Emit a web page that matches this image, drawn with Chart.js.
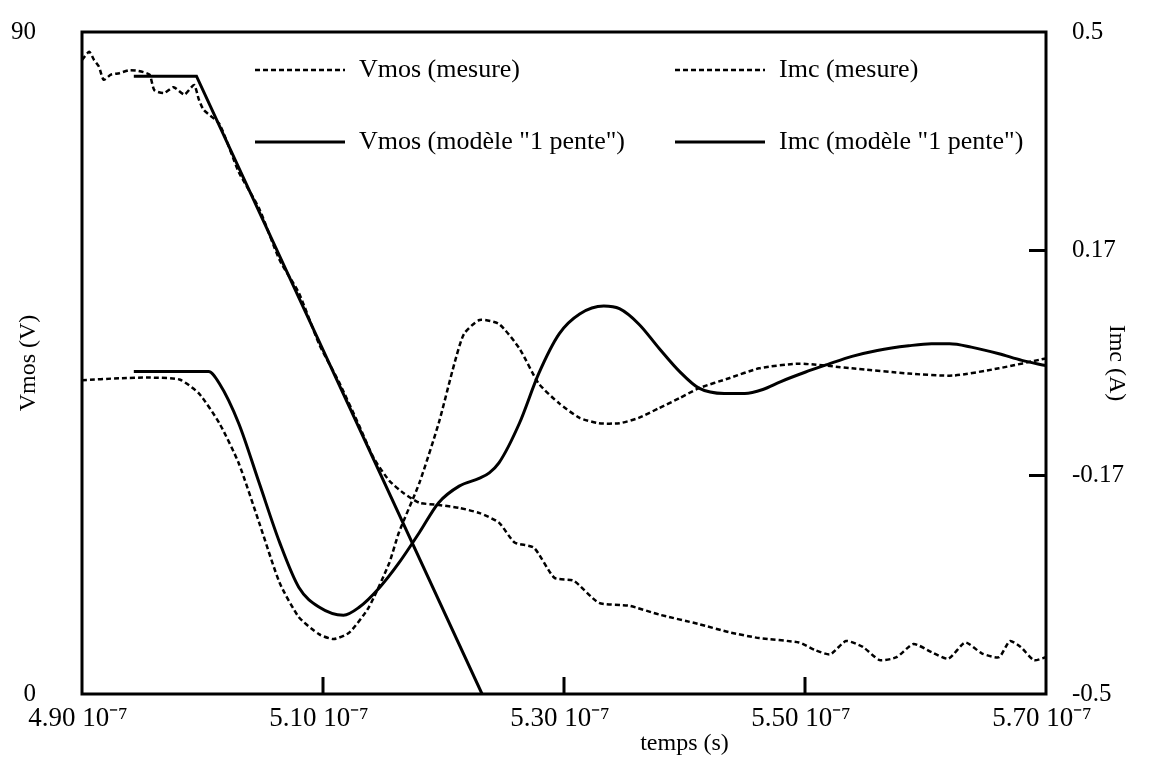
<!DOCTYPE html>
<html>
<head>
<meta charset="utf-8">
<style>
  html, body { margin: 0; padding: 0; background: #fff; }
</style>
</head>
<body>
<canvas id="chart" width="1155" height="765"></canvas>
<script src="https://cdn.jsdelivr.net/npm/chart.js@4.4.0/dist/chart.umd.min.js"></script>
<script>
const FONT = "'Liberation Serif', 'Times New Roman', serif";

// time in ns, shown on the axis as "x.xx 10^-7"
const xTicks = [490, 510, 530, 550, 570];
const vmosTicks = [0, 90];
const imcTicks = [-0.5, -0.17, 0.17, 0.5];

const vmosMesureT = [490.0, 490.6, 491.0, 491.4, 491.8, 492.4, 493.1, 493.9, 494.7, 495.6, 496.0, 496.8, 497.6, 498.5, 499.3, 499.7, 500.1,
  501.4, 503.0, 504.7, 506.4, 508.0, 509.7, 511.3, 513.0, 514.2, 515.5, 516.7, 518.0, 519.6, 521.3, 523.0, 524.6, 525.9, 527.5,
  529.2, 530.8, 532.9, 535.4, 537.9, 541.2, 543.7, 546.2, 549.5, 550.8, 552.1, 553.4, 554.8, 556.2, 557.6, 559.0, 560.5, 561.9,
  563.3, 564.7, 566.1, 567.0, 567.9, 569.0, 570.0];
const vmosMesureV = [86.2, 87.3, 86.2, 85.3, 83.5, 84.2, 84.4, 84.8, 84.7, 84.2, 82.1, 81.7, 82.5, 81.5, 82.8, 80.8, 79.4,
  77.5, 71.0, 66.0, 59.0, 54.5, 47.5, 42.5, 36.5, 32.1, 29.0, 27.3, 26.0, 25.7, 25.3, 24.6, 23.3, 20.6, 19.9,
  15.8, 15.4, 12.4, 12.0, 10.8, 9.5, 8.4, 7.6, 7.0, 6.0, 5.4, 7.2, 6.4, 4.6, 5.0, 6.8, 5.7, 4.8,
  7.0, 5.5, 5.0, 7.2, 6.4, 4.6, 5.0];

const vmosModeleT = [494.3, 499.5, 523.2];
const vmosModeleV = [84.0, 84.0, 0];

const imcMesureT = [490.0, 493.1, 495.6, 498.1, 499.7, 501.4, 503.0, 504.7, 506.4, 508.0, 509.7, 510.9, 512.2, 513.8, 515.5, 516.3,
  518.0, 519.6, 520.9, 521.7, 523.0, 524.6, 526.3, 527.9, 529.6, 531.3, 532.9, 534.6, 536.2, 537.9, 539.6, 541.2, 543.7,
  546.2, 549.5, 553.9, 558.6, 562.3, 566.1, 570.0];
const imcMesureI = [-0.026, -0.023, -0.022, -0.025, -0.046, -0.091, -0.151, -0.241, -0.332, -0.384, -0.410, -0.417, -0.407, -0.369, -0.302, -0.256,
  -0.181, -0.091, -0.001, 0.044, 0.065, 0.059, 0.022, -0.031, -0.061, -0.083, -0.091, -0.091, -0.083, -0.068, -0.053, -0.038, -0.023,
  -0.008, -0.001, -0.008, -0.016, -0.019, -0.008, 0.007];

const imcModeleT = [494.3, 500.5, 501.4, 503.0, 504.7, 506.4, 508.0, 509.7, 511.7, 513.0, 514.7, 516.3, 518.0, 519.6, 521.3, 523.0,
  523.8, 524.6, 526.3, 527.9, 529.6, 531.3, 533.3, 534.6, 536.2, 537.9, 539.6, 541.2, 543.3, 545.0, 546.5, 548.0, 550.0,
  551.9, 553.9, 556.0, 558.6, 560.5, 562.0, 563.8, 566.1, 568.0, 570.0];
const imcModeleI = [-0.013, -0.013, -0.031, -0.091, -0.181, -0.271, -0.339, -0.369, -0.381, -0.369, -0.339, -0.302, -0.256, -0.211, -0.186, -0.174,
  -0.166, -0.151, -0.091, -0.016, 0.044, 0.074, 0.086, 0.082, 0.059, 0.022, -0.013, -0.038, -0.046, -0.046, -0.040, -0.028, -0.014,
  -0.002, 0.010, 0.019, 0.026, 0.029, 0.029, 0.024, 0.014, 0.004, -0.004];

const seriesNames = ["Vmos (mesure)", "Vmos (modèle \"1 pente\")", "Imc (mesure)", "Imc (modèle \"1 pente\")"];

function zip(ts, vs) {
  return ts.map((t, i) => ({ x: t, y: vs[i] }));
}

const measured = { borderColor: "#000", borderWidth: 2.5, borderDash: [5, 3], pointRadius: 0, tension: 0.2, fill: false };
const model = { borderColor: "#000", borderWidth: 3, pointRadius: 0, fill: false };

const framePlugin = {
  id: "frame",
  afterDatasetsDraw(chart) {
    const { ctx, chartArea: a, scales } = chart;
    ctx.save();
    ctx.strokeStyle = "#000";
    ctx.lineWidth = 3;
    ctx.setLineDash([]);
    ctx.strokeRect(a.left, a.top, a.width, a.height);

    // inward tick marks
    ctx.beginPath();
    xTicks.slice(1, -1).forEach(v => {
      const px = scales.x.getPixelForValue(v);
      ctx.moveTo(px, a.bottom);
      ctx.lineTo(px, a.bottom - 17);
    });
    imcTicks.slice(1, -1).forEach(v => {
      const py = scales.yI.getPixelForValue(v);
      ctx.moveTo(a.right, py);
      ctx.lineTo(a.right - 17, py);
    });
    ctx.stroke();

    // legend, two columns inside the plot
    ctx.font = "26px " + FONT;
    ctx.fillStyle = "#000";
    ctx.textAlign = "left";
    ctx.textBaseline = "middle";
    chart.data.datasets.forEach((ds, i) => {
      const col = i < 2 ? 0 : 1;
      const row = i % 2;
      const x0 = a.left + (col === 0 ? 173 : 593);
      const y = a.top + (row === 0 ? 38 : 110);
      ctx.lineWidth = ds.borderWidth;
      ctx.setLineDash(ds.borderDash || []);
      ctx.beginPath();
      ctx.moveTo(x0, y);
      ctx.lineTo(x0 + 90, y);
      ctx.stroke();
      ctx.fillText(ds.label, x0 + 104, y);
    });

    ctx.font = "24px " + FONT;
    ctx.textAlign = "center";
    ctx.fillText("temps (s)", scales.x.getPixelForValue(540), a.bottom + 50);
    ctx.restore();
  }
};

function noPad(s) {
  s.paddingTop = 0; s.paddingBottom = 0; s.paddingLeft = 0; s.paddingRight = 0;
}

new Chart(document.getElementById("chart"), {
  type: "line",
  data: {
    datasets: [
      { label: seriesNames[0], data: zip(vmosMesureT, vmosMesureV), yAxisID: "yV", ...measured },
      { label: seriesNames[1], data: zip(vmosModeleT, vmosModeleV), yAxisID: "yV", ...model, tension: 0 },
      { label: seriesNames[2], data: zip(imcMesureT, imcMesureI), yAxisID: "yI", ...measured },
      { label: seriesNames[3], data: zip(imcModeleT, imcModeleI), yAxisID: "yI", ...model, cubicInterpolationMode: "monotone" },
    ],
  },
  options: {
    responsive: false,
    animation: false,
    layout: { padding: { top: 32, left: 0, right: 0, bottom: 0 } },
    plugins: { legend: { display: false }, tooltip: { enabled: false } },
    scales: {
      x: {
        type: "linear",
        min: 490, max: 570,
        afterBuildTicks: s => { s.ticks = xTicks.map(v => ({ value: v })); },
        afterFit: s => { s.height = 71; noPad(s); },
        grid: { display: false, drawTicks: false },
        border: { display: false },
        ticks: {
          font: { family: FONT, size: 27 }, color: "#000",
          padding: 9, labelOffset: -4, maxRotation: 0, autoSkip: false,
          callback: v => (v / 100).toFixed(2) + " 10\u207B\u2077",
        },
      },
      yV: {
        position: "left",
        min: 0, max: 90,
        afterBuildTicks: s => { s.ticks = vmosTicks.map(v => ({ value: v })); },
        afterFit: s => { s.width = 82; noPad(s); },
        grid: { display: false, drawTicks: false },
        border: { display: false },
        ticks: { font: { family: FONT, size: 25 }, color: "#000", padding: 46, callback: v => String(v) },
        title: { display: true, text: "Vmos (V)", font: { family: FONT, size: 24 }, color: "#000", padding: { top: 14, bottom: 0 } },
      },
      yI: {
        position: "right",
        min: -0.5, max: 0.5,
        afterBuildTicks: s => { s.ticks = imcTicks.map(v => ({ value: v })); },
        afterFit: s => { s.width = 109; noPad(s); },
        grid: { display: false, drawTicks: false },
        border: { display: false },
        ticks: { font: { family: FONT, size: 25 }, color: "#000", padding: 26, callback: v => String(v) },
        title: { display: true, text: "Imc (A)", font: { family: FONT, size: 24 }, color: "#000", padding: { top: 24, bottom: 0 } },
      },
    },
  },
  plugins: [framePlugin],
});
</script>
</body>
</html>
